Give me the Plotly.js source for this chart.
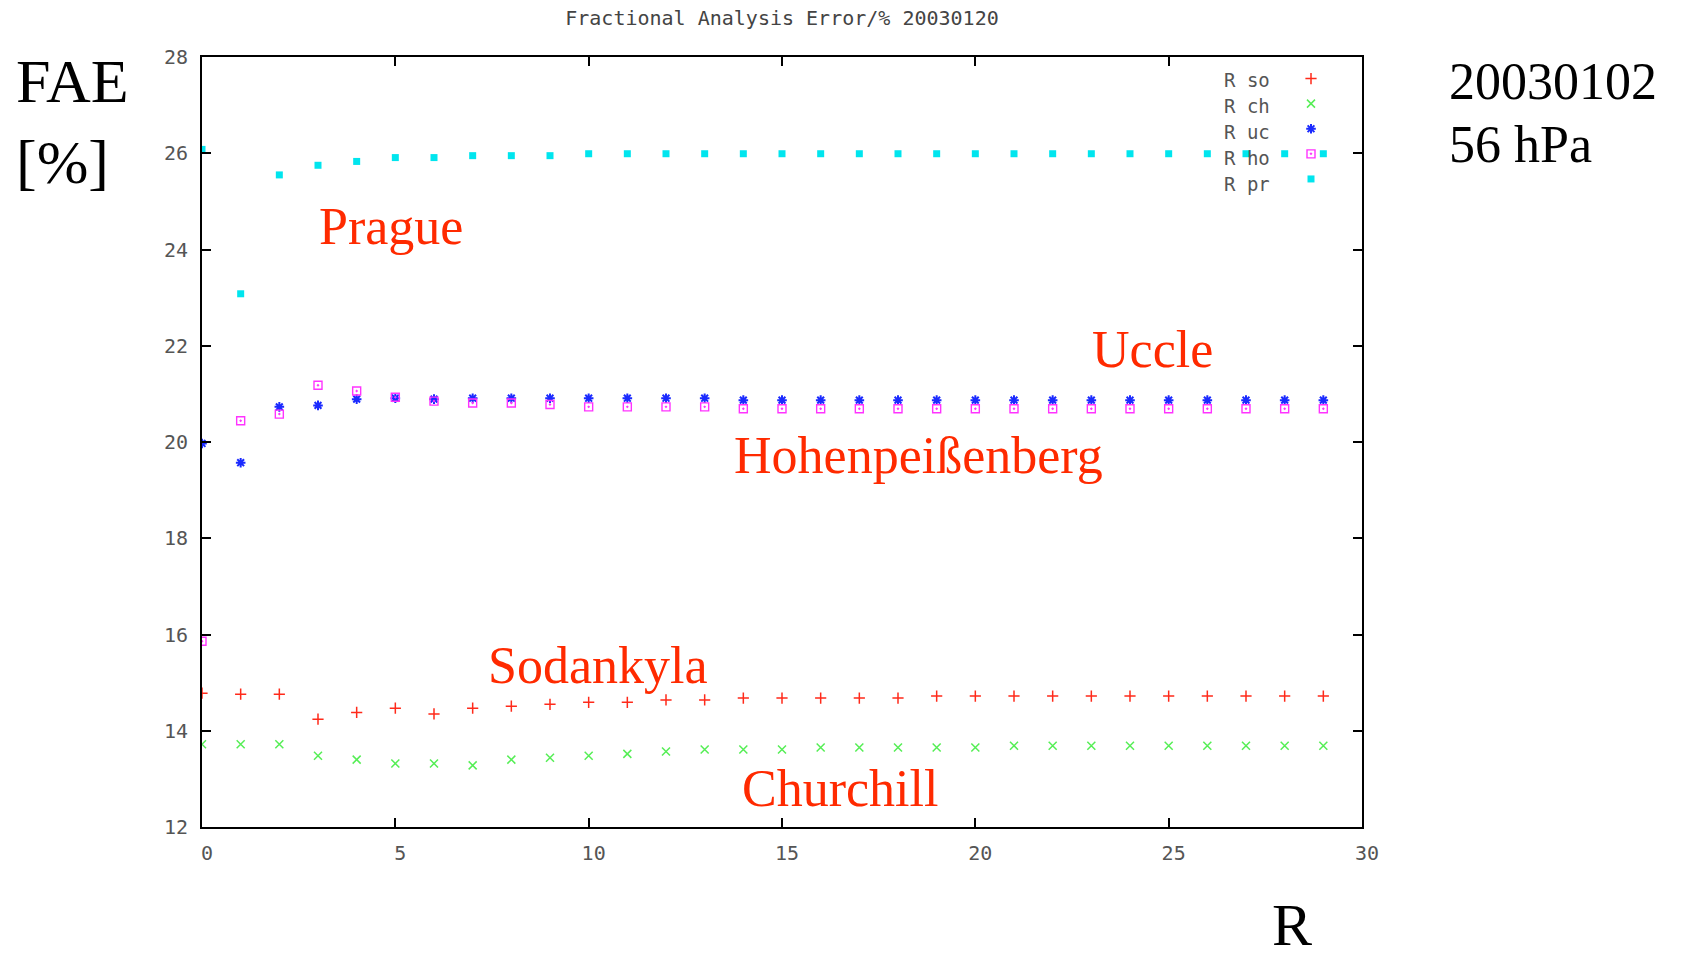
<!DOCTYPE html>
<html>
<head>
<meta charset="utf-8">
<script src="https://cdn.plot.ly/plotly-3.0.1.min.js"></script>
<style>html,body{margin:0;padding:0;background:#fff;}#chart{width:1681px;height:960px;}</style>
</head>
<body>
<div id="chart"></div>
<script>
const R = [0,1,2,3,4,5,6,7,8,9,10,11,12,13,14,15,16,17,18,19,20,21,22,23,24,25,26,27,28,29];
const so = [14.78,14.76,14.76,14.24,14.38,14.47,14.35,14.47,14.51,14.55,14.59,14.59,14.64,14.64,14.68,14.68,14.68,14.68,14.68,14.72,14.72,14.72,14.72,14.72,14.72,14.72,14.72,14.72,14.72,14.72];
const ch = [13.72,13.72,13.72,13.48,13.40,13.32,13.32,13.28,13.40,13.44,13.48,13.52,13.57,13.61,13.61,13.61,13.65,13.65,13.65,13.65,13.65,13.69,13.69,13.69,13.69,13.69,13.69,13.69,13.69,13.69];
const uc = [19.97,19.57,20.73,20.76,20.89,20.91,20.89,20.91,20.91,20.91,20.91,20.91,20.91,20.91,20.87,20.87,20.87,20.87,20.87,20.87,20.87,20.87,20.87,20.87,20.87,20.87,20.87,20.87,20.87,20.87];
const ho = [15.86,20.44,20.58,21.18,21.06,20.93,20.85,20.81,20.81,20.78,20.73,20.73,20.73,20.73,20.69,20.69,20.69,20.69,20.69,20.69,20.69,20.69,20.69,20.69,20.69,20.69,20.69,20.69,20.69,20.69];
const pr = [26.08,23.08,25.55,25.75,25.83,25.91,25.91,25.95,25.95,25.95,25.99,25.99,25.99,25.99,25.99,25.99,25.99,25.99,25.99,25.99,25.99,25.99,25.99,25.99,25.99,25.99,25.99,25.99,25.99,25.99];
const legendLabels = ['R so','R ch','R uc','R ho','R pr'];
const stationNames = ['Prague','Uccle','Hohenpeißenberg','Sodankyla','Churchill'];
const titleText = 'Fractional Analysis Error/% 20030120';

const mono = 'DejaVu Sans Mono, Liberation Mono, monospace';
const serif = 'Liberation Serif, Times New Roman, serif';
const red = '#ff2a00';

function tr(y, symbol, color, size, lw) {
  return {x: R, y: y, type: 'scatter', mode: 'markers', name: ' ',
    marker: {symbol: symbol, size: size, color: color, line: {color: color, width: lw}}};
}
const data = [
  tr(so, 'cross-thin-open', '#ff2a1a', 8, 1.5),
  tr(ch, 'x-thin-open', '#55ee55', 8, 1.5),
  tr(uc, 'asterisk-open', '#1a2aff', 8, 2),
  tr(ho, 'square-open-dot', '#ff33ff', 8, 1.4),
  tr(pr, 'square', '#00e5ee', 7, 0)
];

const annotations = [];
const stationPos = [[2.97,24.47],[22.96,21.93],[13.7,19.71],[7.34,15.35],[13.91,12.81]];
stationNames.forEach((s,i)=>annotations.push({x: stationPos[i][0], y: stationPos[i][1], xref:'x', yref:'y',
  text: s, showarrow:false, xanchor:'left', yanchor:'middle', font:{family:serif, size:52, color:red}}));
legendLabels.forEach((s,i)=>annotations.push({x:(1222-202)/1160, y:(827-(80+26*i))/770, xref:'paper', yref:'paper',
  text: s, showarrow:false, xanchor:'left', yanchor:'middle', font:{family:mono, size:19, color:'#555'}}));
annotations.push({x:-0.162, y:(827-122)/770, xref:'paper', yref:'paper', text:'FAE<br>[%]', align:'left',
  showarrow:false, xanchor:'left', yanchor:'middle', font:{family:serif, size:62, color:'#000'}});
annotations.push({x:(1447-202)/1160, y:(827-81.5)/770, xref:'paper', yref:'paper', text:'20030102',
  showarrow:false, xanchor:'left', yanchor:'middle', font:{family:serif, size:52, color:'#000'}});
annotations.push({x:(1447-202)/1160, y:(827-144.5)/770, xref:'paper', yref:'paper', text:'56 hPa',
  showarrow:false, xanchor:'left', yanchor:'middle', font:{family:serif, size:52, color:'#000'}});
annotations.push({x:(1270-202)/1160, y:(827-960)/770, xref:'paper', yref:'paper', text:'R',
  showarrow:false, xanchor:'left', yanchor:'bottom', font:{family:serif, size:60, color:'#000'}});

const axisCommon = {showline:true, linewidth:2, linecolor:'#000', mirror:'ticks', ticks:'inside',
  ticklen:9, tickwidth:2, tickcolor:'#000', showgrid:false, zeroline:false,
  tickfont:{family:mono, size:20, color:'#555'}};

const layout = {
  width:1681, height:960,
  margin:{l:202, r:319, t:57, b:133},
  paper_bgcolor:'#fff', plot_bgcolor:'#fff',
  title:{text:titleText, x:0.5, xref:'paper', xanchor:'center', y:1-18/960, yanchor:'middle',
    font:{family:mono, size:20, color:'#444'}},
  xaxis:Object.assign({range:[0,30], dtick:5, tick0:0, ticklabelstandoff:7, ticklabelshift:5}, axisCommon),
  yaxis:Object.assign({range:[12,28], dtick:2, tick0:12, ticklabelstandoff:8}, axisCommon),
  showlegend:true,
  legend:{x:(1291-202)/1160, y:(827-61)/770, xanchor:'left', yanchor:'top', bgcolor:'rgba(0,0,0,0)',
    font:{family:mono, size:17}, itemwidth:30, tracegroupgap:0},
  annotations: annotations
};
Plotly.newPlot('chart', data, layout, {displayModeBar:false, staticPlot:true});
</script>
</body>
</html>
